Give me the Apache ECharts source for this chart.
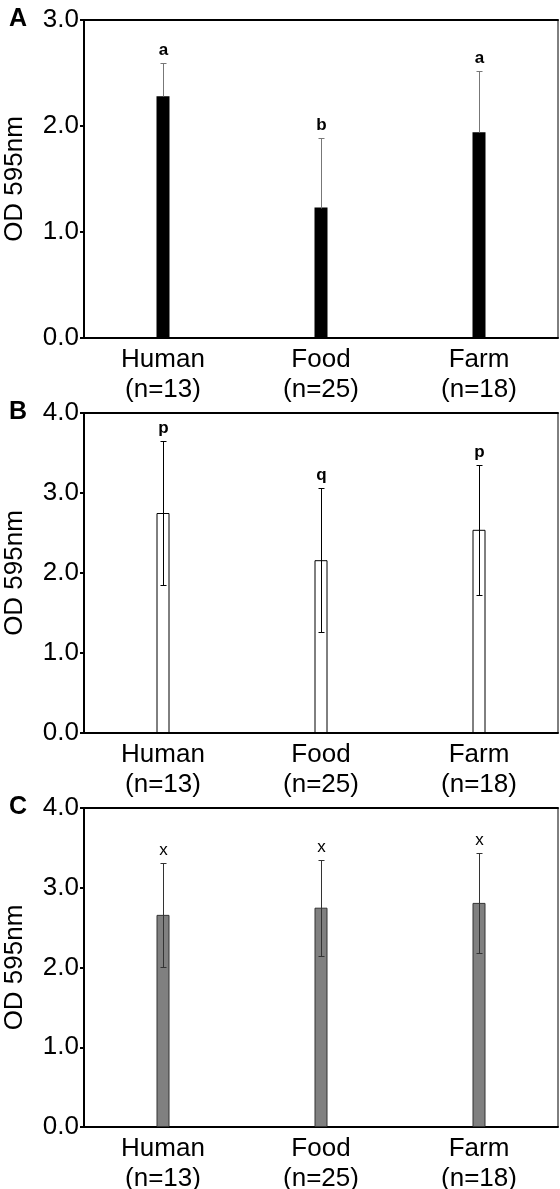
<!DOCTYPE html>
<html>
<head>
<meta charset="utf-8">
<script src="https://cdn.jsdelivr.net/npm/echarts@6/dist/echarts.min.js"></script>
<style>html,body{margin:0;padding:0;background:#fff}#c{width:560px;height:1189px}</style>
</head>
<body>
<div id="c"></div>
<script>
const categories = ['Human\n(n=13)', 'Food\n(n=25)', 'Farm\n(n=18)'];
const yTicksA = [0, 1, 2, 3];
const yTicksBC = [0, 1, 2, 3, 4];
// Panel A (only upper error shown)
const meansA = [2.28, 1.23, 1.94];
const sdA = [0.31, 0.66, 0.58];
const lettersA = ['a', 'b', 'a'];
// Panel B
const meansB = [2.75, 2.16, 2.54];
const sdB = [0.90, 0.90, 0.81];
const lettersB = ['p', 'q', 'p'];
// Panel C
const meansC = [2.66, 2.75, 2.81];
const sdC = [0.65, 0.60, 0.63];
const lettersC = ['x', 'x', 'x'];

const FONT = '"Liberation Sans", Arial, sans-serif';

const panels = [
  {top: 20, bottom: 1189 - 338, max: 3, means: meansA, sd: sdA, letters: lettersA, showLower: false,
   bar: {color: '#000', borderColor: '#000', borderWidth: 0}, err: '#777', bold: 'bold', panel: 'A'},
  {top: 413, bottom: 1189 - 733, max: 4, means: meansB, sd: sdB, letters: lettersB, showLower: true,
   bar: {color: '#fff', borderColor: '#000', borderWidth: 1}, err: '#000', bold: 'bold', panel: 'B'},
  {top: 808, bottom: 1189 - 1127, max: 4, means: meansC, sd: sdC, letters: lettersC, showLower: true,
   bar: {color: '#808080', borderColor: '#333', borderWidth: 1}, err: '#333', bold: 'normal', panel: 'C'}
];

function errRender(p) {
  return function (params, api) {
    const i = api.value(0), lo = api.value(1), hi = api.value(2);
    const a = api.coord([i, hi]);
    const b = api.coord([i, lo]);
    const x = Math.round(a[0]) + 0.5;
    const yh = Math.round(a[1]) + 0.5, yl = Math.round(b[1]) + 0.5;
    const cw = 3;
    const st = {stroke: p.err, lineWidth: 1};
    const ch = [
      {type: 'line', shape: {x1: x, y1: yh, x2: x, y2: yl}, style: st},
      {type: 'line', shape: {x1: x - cw, y1: yh, x2: x + cw, y2: yh}, style: st},
      {type: 'text', x: x, y: yh - 5, style: {text: p.letters[params.dataIndex], align: 'center', verticalAlign: 'bottom',
        font: p.bold + ' 17px ' + FONT, fill: '#000'}}
    ];
    if (p.showLower) ch.push({type: 'line', shape: {x1: x - cw, y1: yl, x2: x + cw, y2: yl}, style: st});
    return {type: 'group', children: ch};
  };
}

const option = {
  animation: false,
  backgroundColor: '#fff',
  grid: panels.map(p => ({left: 84, right: 2, top: p.top, bottom: p.bottom, show: true, borderColor: '#000', borderWidth: 1,
    backgroundColor: 'transparent', containLabel: false, outerBoundsMode: 'none'})),
  xAxis: [],
  yAxis: [],
  series: [],
  graphic: panels.map(p => ({type: 'text', left: 9, top: p.top - 13, style: {text: p.panel, font: 'bold 25px ' + FONT, fill: '#000'}}))
};

panels.forEach((p, k) => {
  option.xAxis.push({
    type: 'category', gridIndex: k, data: categories, position: 'bottom',
    axisLine: {lineStyle: {color: '#000', width: 2}},
    axisTick: {alignWithLabel: true, length: 4, lineStyle: {color: '#000', width: 2}},
    axisLabel: {color: '#000', fontSize: 26, fontFamily: FONT, lineHeight: 30, margin: 7}
  });
  option.xAxis.push({
    type: 'category', gridIndex: k, data: categories, position: 'top',
    axisLine: {lineStyle: {color: '#000', width: 2}},
    axisTick: {show: false}, axisLabel: {show: false}
  });
  option.yAxis.push({
    type: 'value', gridIndex: k, min: 0, max: p.max, interval: 1,
    name: 'OD 595nm', nameLocation: 'middle', nameGap: 56, nameRotate: 90,
    nameTextStyle: {color: '#000', fontSize: 26, fontFamily: FONT},
    axisLine: {show: true, lineStyle: {color: '#000', width: 2}},
    axisTick: {show: true, length: 4, lineStyle: {color: '#000', width: 2}},
    splitLine: {show: false},
    axisLabel: {color: '#000', fontSize: 26, fontFamily: FONT, margin: 5, formatter: v => v.toFixed(1)}
  });
  option.series.push({
    type: 'bar', xAxisIndex: 2 * k, yAxisIndex: k, barWidth: 13, data: p.means,
    itemStyle: p.bar, z: 2
  });
  option.series.push({
    type: 'custom', xAxisIndex: 2 * k, yAxisIndex: k, z: 3,
    renderItem: errRender(p),
    data: p.means.map((m, i) => [i, p.showLower ? m - p.sd[i] : m, m + p.sd[i]])
  });
});

const chart = echarts.init(document.getElementById('c'), null, {renderer: 'canvas'});
chart.setOption(option);
</script>
</body>
</html>
